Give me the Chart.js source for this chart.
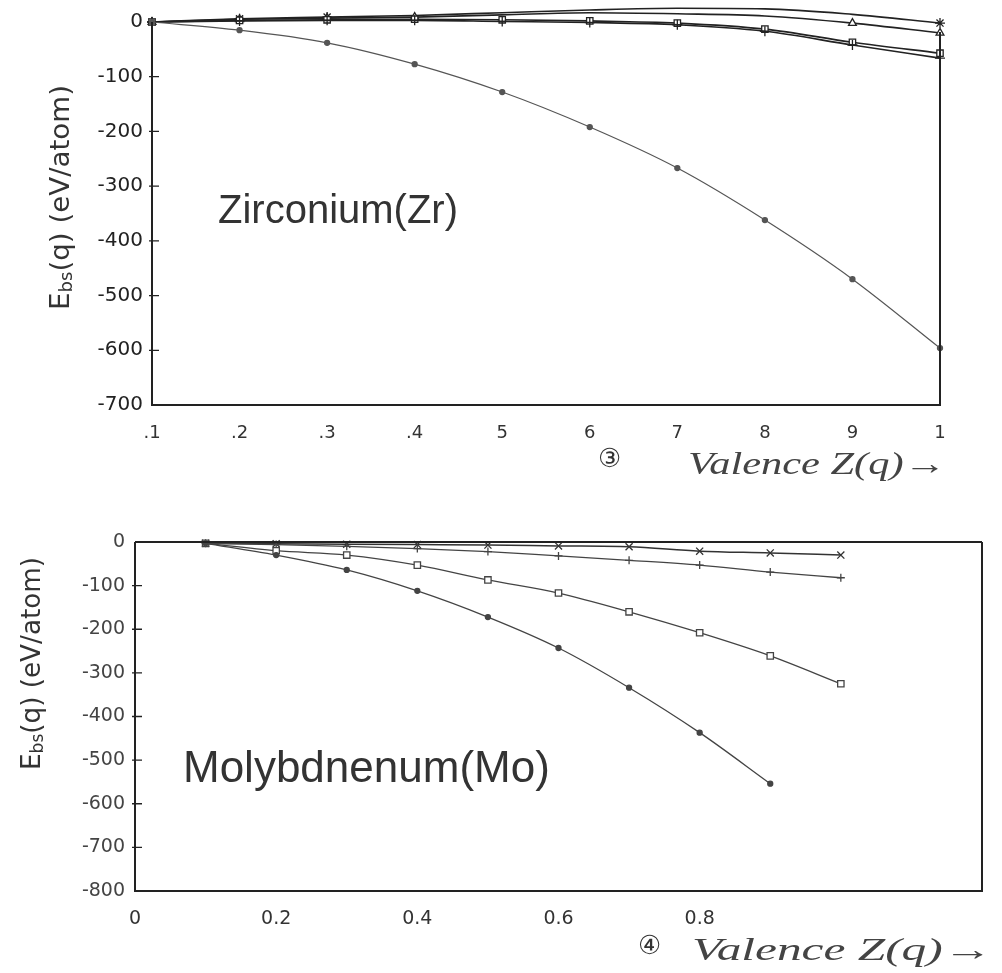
<!DOCTYPE html>
<html><head><meta charset="utf-8">
<script src="https://cdn.jsdelivr.net/npm/chart.js@4.4.0/dist/chart.umd.min.js"></script>
<style>
html,body{margin:0;padding:0;background:#fff;width:1002px;height:973px;overflow:hidden}
canvas{position:absolute;left:0}
#c1{top:0}
#c2{top:500px}
</style></head><body>
<canvas id="c1" width="1002" height="500"></canvas>
<canvas id="c2" width="1002" height="473"></canvas>
<script>
// ---------- Zirconium (Zr) ----------
const zrValence = [0.1,0.2,0.3,0.4,0.5,0.6,0.7,0.8,0.9,1.0];
const zrXTickLabels = ['.1','.2','.3','.4','5','6','7','8','9','1'];
const zrYTickValues = [0,-100,-200,-300,-400,-500,-600,-700];
const zrYTickLabels = ['0','-100','-200','-300','-400','-500','-600','-700'];
const zrStar     = [0, 6, 9, 12, 17, 22, 25, 24, 14, -2];
const zrTriangle = [0, 5, 7, 9, 13, 17, 15, 11, -2, -20];
const zrSquare   = [0, 3, 4, 5, 4, 2, -2, -13, -37, -57];
const zrCross    = [0, 2, 3, 3, 1, -1, -5, -17, -42, -66];
const zrDot      = [0, -15, -38, -77, -128, -192, -267, -362, -470, -596];

// ---------- Molybdenum (Mo) ----------
const moValence = [0.1,0.2,0.3,0.4,0.5,0.6,0.7,0.8,0.9,1.0];
const moXTickValues = [0,0.2,0.4,0.6,0.8,1.0,1.2];
const moXTickLabels = ['0','0.2','0.4','0.6','0.8','',''];
const moYTickValues = [0,-100,-200,-300,-400,-500,-600,-700,-800];
const moYTickLabels = ['0','-100','-200','-300','-400','-500','-600','-700','-800'];
const moCross  = [-3, -4, -5, -6, -7, -9, -11, -21, -25, -30];
const moPlus   = [-3, -6, -10, -15, -22, -32, -42, -53, -69, -82];
const moSquare = [-3, -20, -30, -53, -87, -117, -160, -208, -261, -325];
const moDot    = [-3, -30, -64, -112, -172, -243, -334, -437, -554, null];

function pts(xs, ys){ return xs.map((x,i)=>({x:x, y:ys[i]})); }
function ds(xs, ys, style, r, color, width){
  return {data: pts(xs, ys), borderColor: color, borderWidth: width,
    pointStyle: style, pointRadius: r, pointBorderWidth: 1.3,
    pointBorderColor: color, pointBackgroundColor: style==='circle'?color:'#fff',
    cubicInterpolationMode:'monotone', fill:false, clip:false, spanGaps:false};
}

function framePlugin(sides, rightTopOffset){
  return {id:'frame', afterDatasetsDraw(chart){
    const ctx = chart.ctx, a = chart.chartArea, ys = chart.scales.y;
    ctx.save(); ctx.strokeStyle = '#222'; ctx.lineWidth = 2; ctx.beginPath();
    ctx.moveTo(a.left, a.top); ctx.lineTo(a.left, a.bottom); ctx.lineTo(a.right, a.bottom);
    ctx.lineTo(a.right, a.top + rightTopOffset);
    if (sides.top){ ctx.moveTo(a.left, a.top); ctx.lineTo(a.right, a.top); }
    ctx.stroke();
    ctx.lineWidth = 1.3; ctx.beginPath();
    ys.ticks.forEach(t=>{ const y = ys.getPixelForValue(t.value);
      if (Math.abs(y - a.top) > 2 && Math.abs(y - a.bottom) > 2){ ctx.moveTo(a.left - 3, y); ctx.lineTo(a.left + 7, y); } });
    ctx.stroke(); ctx.restore();
  }};
}

function drawRotTitle(ctx, cx, yBottom, yTop, color){
  const parts = [{t:'E', s:26, dy:0},{t:'bs', s:17, dy:6},{t:'(q) (eV/atom)', s:26, dy:0}];
  ctx.save(); ctx.fillStyle = color; ctx.textBaseline = 'middle'; ctx.textAlign = 'left';
  let total = 0;
  parts.forEach(p=>{ ctx.font = p.s + 'px "DejaVu Sans"'; p.w = ctx.measureText(p.t).width; total += p.w; });
  ctx.translate(cx, yBottom); ctx.rotate(-Math.PI/2);
  ctx.scale((yBottom - yTop)/total, 1);
  let x = 0;
  parts.forEach(p=>{ ctx.font = p.s + 'px "DejaVu Sans"'; ctx.fillText(p.t, x, p.dy); x += p.w; });
  ctx.restore();
}

function textPlugin(items, title){
  return {id:'texts', afterDraw(chart){
    const ctx = chart.ctx;
    drawRotTitle(ctx, title.cx, title.yb, title.yt, '#333');
    items.forEach(t=>{
      ctx.save(); ctx.font = t.font; ctx.fillStyle = t.color || '#333';
      ctx.textBaseline = 'middle'; ctx.textAlign = 'left';
      const m = ctx.measureText(t.text).width;
      ctx.translate(t.x, t.y);
      if (t.width) ctx.scale(t.width / m, 1);
      ctx.fillText(t.text, 0, 0); ctx.restore();
    });
  }};
}

const common = {responsive:false, animation:false, devicePixelRatio:1,
  plugins:{legend:{display:false}, tooltip:{enabled:false}}};

// Chart 1: Zr
new Chart(document.getElementById('c1'), {
  type:'line',
  data:{datasets:[
    ds(zrValence, zrDot, 'circle', 2.5, '#555', 1.2),
    ds(zrValence, zrCross, 'cross', 5, '#222', 1.6),
    ds(zrValence, zrSquare, 'rect', 4.5, '#222', 1.6),
    ds(zrValence, zrTriangle, 'triangle', 4.5, '#222', 1.6),
    ds(zrValence, zrStar, 'star', 5, '#222', 1.6)
  ]},
  options:Object.assign({}, common, {
    layout:{padding:{left:0, right:1002-940, top:22, bottom:0}},
    scales:{
      x:{type:'linear', min:0.1, max:1.0,
        afterBuildTicks:s=>{ s.ticks = zrValence.map(v=>({value:v})); },
        afterFit:s=>{ s.height = 500-405; },
        ticks:{callback:(v,i)=>zrXTickLabels[i], padding:18, autoSkip:false, maxRotation:0,
          font:{family:'DejaVu Sans', size:18}, color:'#333'},
        grid:{display:false, drawTicks:false}, border:{display:false}},
      y:{type:'linear', min:-700, max:0,
        afterBuildTicks:s=>{ s.ticks = zrYTickValues.map(v=>({value:v})); },
        afterFit:s=>{ s.width = 152; },
        ticks:{callback:(v,i)=>zrYTickLabels[i], padding:9, autoSkip:false,
          font:{family:'DejaVu Sans', size:20}, color:'#222'},
        grid:{display:false, drawTicks:false}, border:{display:false}}
    }
  }),
  plugins:[framePlugin({top:false}, 10), textPlugin([
    {text:'Zirconium(Zr)', x:218, y:212, font:'40px "Liberation Sans"', color:'#333'},
    {text:'③', x:598, y:460, font:'26px "DejaVu Sans"', color:'#333'},
    {text:'Valence Z(q)→', x:688, y:466, width:258, font:'italic 32px "Liberation Serif"', color:'#444'}
  ], {cx:62, yb:310, yt:85})]
});

// Chart 2: Mo
new Chart(document.getElementById('c2'), {
  type:'line',
  data:{datasets:[
    ds(moValence, moDot, 'circle', 2.5, '#444', 1.3),
    ds(moValence, moSquare, 'rect', 4.5, '#444', 1.3),
    ds(moValence, moPlus, 'cross', 4, '#444', 1.3),
    ds(moValence, moCross, 'crossRot', 5, '#333', 1.5)
  ]},
  options:Object.assign({}, common, {
    layout:{padding:{left:0, right:1002-982, top:42, bottom:0}},
    scales:{
      x:{type:'linear', min:0, max:1.2,
        afterBuildTicks:s=>{ s.ticks = moXTickValues.map(v=>({value:v})); },
        afterFit:s=>{ s.height = 473-391; },
        ticks:{callback:(v,i)=>moXTickLabels[i], padding:17, autoSkip:false, maxRotation:0,
          font:{family:'DejaVu Sans', size:19}, color:'#333'},
        grid:{display:false, drawTicks:false}, border:{display:false}},
      y:{type:'linear', min:-800, max:0,
        afterBuildTicks:s=>{ s.ticks = moYTickValues.map(v=>({value:v})); },
        afterFit:s=>{ s.width = 135; },
        ticks:{callback:(v,i)=>moYTickLabels[i], padding:10, autoSkip:false,
          font:{family:'DejaVu Sans', size:19}, color:'#444'},
        grid:{display:false, drawTicks:false}, border:{display:false}}
    }
  }),
  plugins:[framePlugin({top:true}, 0), textPlugin([
    {text:'Molybdnenum(Mo)', x:183, y:270, font:'44px "Liberation Sans"', color:'#333'},
    {text:'④', x:638, y:447, font:'26px "DejaVu Sans"', color:'#333'},
    {text:'Valence Z(q)→', x:692, y:452, width:300, font:'italic 32px "Liberation Serif"', color:'#444'}
  ], {cx:33, yb:270, yt:57})]
});
</script>
</body></html>
